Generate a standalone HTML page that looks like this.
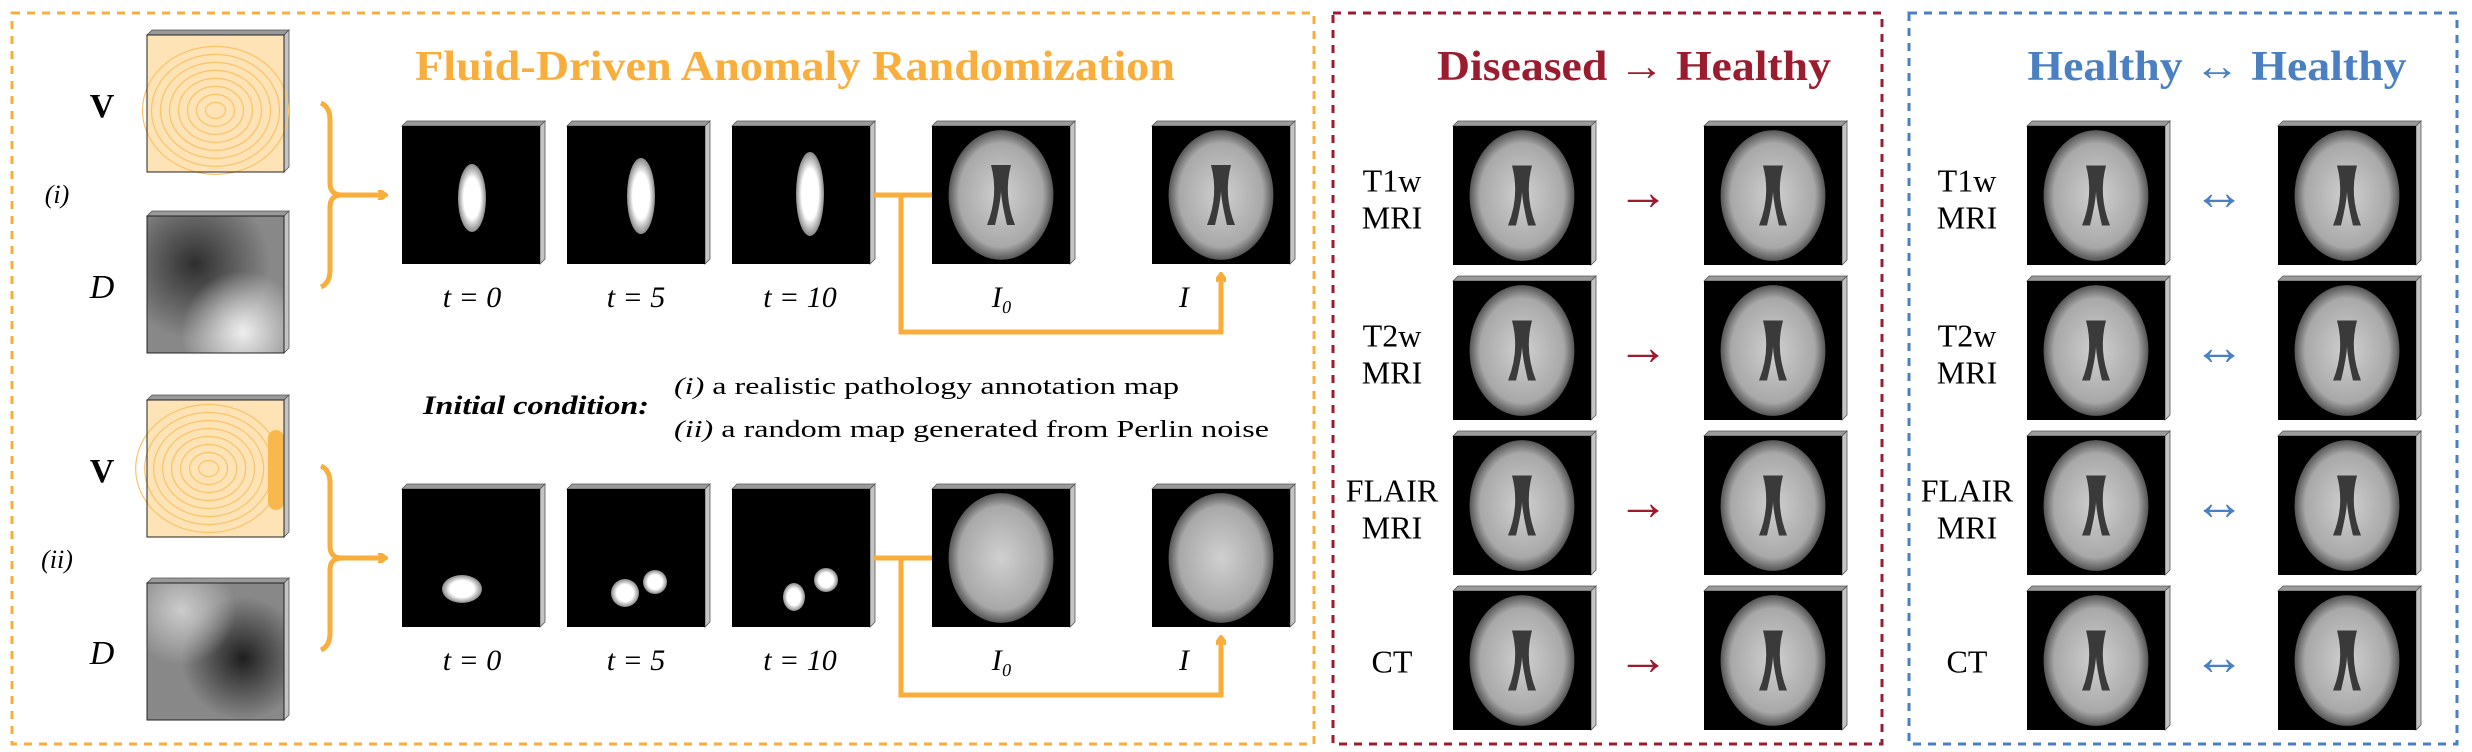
<!DOCTYPE html>
<html><head><meta charset="utf-8"><style>
html,body{margin:0;padding:0;background:#fff;}
svg{display:block;font-family:"Liberation Serif",serif;}
</style></head><body>
<svg id="fig" width="2472" height="752" viewBox="0 0 2472 752">
<defs>
<radialGradient id="brainG" cx="50%" cy="50%" r="50%"><stop offset="0" stop-color="#d0d0d0"/><stop offset="0.8" stop-color="#a8a8a8"/><stop offset="1" stop-color="#555"/></radialGradient>
<radialGradient id="blobG" cx="50%" cy="50%" r="50%"><stop offset="0.6" stop-color="#fff"/><stop offset="1" stop-color="#888"/></radialGradient>
<radialGradient id="dark1" cx="35%" cy="35%" r="55%"><stop offset="0" stop-color="#2e2e2e"/><stop offset="1" stop-color="#2e2e2e" stop-opacity="0"/></radialGradient>
<radialGradient id="light1" cx="70%" cy="85%" r="45%"><stop offset="0" stop-color="#eee"/><stop offset="1" stop-color="#eee" stop-opacity="0"/></radialGradient>
<radialGradient id="dark2" cx="70%" cy="55%" r="45%"><stop offset="0" stop-color="#1e1e1e"/><stop offset="1" stop-color="#1e1e1e" stop-opacity="0"/></radialGradient>
<radialGradient id="light2" cx="25%" cy="20%" r="40%"><stop offset="0" stop-color="#ccc"/><stop offset="1" stop-color="#ccc" stop-opacity="0"/></radialGradient>
<marker id="ah" markerWidth="10" markerHeight="10" refX="7" refY="5" orient="auto" markerUnits="userSpaceOnUse"><path d="M1,0 L8,5 L1,10" fill="none" stroke="#F9AD3A" stroke-width="4" stroke-linecap="round"/></marker>
</defs>
<rect x="12" y="13" width="1302" height="731" fill="none" stroke="#F9AD3A" stroke-width="3" stroke-dasharray="8,7"/>
<rect x="1333" y="13" width="549" height="731" fill="none" stroke="#9B1C2E" stroke-width="3" stroke-dasharray="8,7"/>
<rect x="1909" y="13" width="548" height="731" fill="none" stroke="#4A7FC1" stroke-width="3" stroke-dasharray="8,7"/>
<text x="795" y="80" text-anchor="middle" font-size="42" font-weight="bold" fill="#F9AD3A" textLength="760" lengthAdjust="spacingAndGlyphs">Fluid-Driven Anomaly Randomization</text>
<text x="1634" y="80" text-anchor="middle" font-size="42" font-weight="bold" fill="#9B1C2E" textLength="394" lengthAdjust="spacingAndGlyphs">Diseased → Healthy</text>
<text x="2217" y="80" text-anchor="middle" font-size="42" font-weight="bold" fill="#4A7FC1" textLength="379" lengthAdjust="spacingAndGlyphs">Healthy ↔ Healthy</text>
<text x="423" y="414" font-size="26" font-weight="bold" font-style="italic" textLength="226" lengthAdjust="spacingAndGlyphs">Initial condition:</text>
<text x="674" y="394" font-size="24" textLength="505" lengthAdjust="spacingAndGlyphs"><tspan font-style="italic">(i)</tspan> a realistic pathology annotation map</text>
<text x="674" y="437" font-size="24" textLength="595" lengthAdjust="spacingAndGlyphs"><tspan font-style="italic">(ii)</tspan> a random map generated from Perlin noise</text>
<g id="dyn"></g>
</svg>
<script>
const NS='http://www.w3.org/2000/svg';
const g=document.getElementById('dyn');
function el(t,a,p){const e=document.createElementNS(NS,t);for(const k in a)e.setAttribute(k,a[k]);(p||g).appendChild(e);return e;}
function txt(x,y,s,size,name,opt){const e=el('text',Object.assign({x:x,y:y,'font-size':size,'text-anchor':'middle'},opt||{}));e.textContent=s;


return e;}
function frame(x,y,w,h,name){const grp=el('g',{});


el('polygon',{points:`${x},${y} ${x+5},${y-5} ${x+w+5},${y-5} ${x+w},${y}`,fill:'#9a9a9a',stroke:'#555','stroke-width':0.8},grp);
el('polygon',{points:`${x+w},${y} ${x+w+5},${y-5} ${x+w+5},${y+h-5} ${x+w},${y+h}`,fill:'#c4c4c4',stroke:'#555','stroke-width':0.8},grp);
return grp;}
function blackImg(x,y,w,h,name){const grp=frame(x,y,w,h,name);el('rect',{x:x,y:y,width:w,height:h,fill:'#000'},grp);return grp;}
function brain(x,y,w,h,name,vent){const grp=blackImg(x,y,w,h,name);const cx=x+w/2,cy=y+h/2;
el('ellipse',{cx:cx,cy:cy,rx:w*0.38,ry:h*0.47,fill:'url(#brainG)'},grp);
if(vent){el('path',{d:`M${cx-10},${cy-30} Q${cx-2},${cy} ${cx-14},${cy+30} L${cx-6},${cy+30} Q${cx},${cy+5} ${cx},${cy-5} Q${cx},${cy+5} ${cx+6},${cy+30} L${cx+14},${cy+30} Q${cx+2},${cy} ${cx+10},${cy-30} Z`,fill:'#3a3a3a'},grp);}
return grp;}
const mapsY=[35,216,400,583];
const mapsType=['V','D','V','D'];
mapsY.forEach((y,i)=>{const x=147,w=137,h=137;const grp=frame(x,y,w,h,'input-map-'+mapsType[i].toLowerCase()+'-'+(i<2?'i':'ii'));
if(mapsType[i]==='V'){el('rect',{x:x,y:y,width:w,height:h,fill:'#fde3b6'},grp);
for(let k=0;k<8;k++){el('ellipse',{cx:x+w*(i?0.45:0.5),cy:y+h*(i?0.5:0.55),rx:10+k*9,ry:8+k*8,fill:'none',stroke:'#F9C36A','stroke-width':1.2},grp);}
if(i)el('rect',{x:x+w-16,y:y+30,width:16,height:80,fill:'#F9B84D',rx:8},grp);
}else{el('rect',{x:x,y:y,width:w,height:h,fill:'#888'},grp);
el('rect',{x:x,y:y,width:w,height:h,fill:i===1?'url(#dark1)':'url(#dark2)'},grp);
el('rect',{x:x,y:y,width:w,height:h,fill:i===1?'url(#light1)':'url(#light2)'},grp);}
el('rect',{x:x,y:y,width:w,height:h,fill:'none',stroke:'#222','stroke-width':1},grp);
});
txt(102,117,'V',34,'v-label-i',{'font-weight':'bold'});
txt(102,298,'D',34,'d-label-i',{'font-style':'italic'});
txt(102,482,'V',34,'v-label-ii',{'font-weight':'bold'});
txt(102,664,'D',34,'d-label-ii',{'font-style':'italic'});
txt(57,203,'(i)',26,'row-i-label',{'font-style':'italic'});
txt(57,568,'(ii)',26,'row-ii-label',{'font-style':'italic'});
const rowY=[126,489];
const colX=[402,567,732,932,1152];
const labelX=[472,636,800,1002,1184];
const tLabels=['t = 0','t = 5','t = 10','I₀','I'];
rowY.forEach((y,r)=>{const w=138,h=138;
const tip=y+h/2;
const br=el('path',{d:`M321,${tip-92} Q330,${tip-88} 330,${tip-75} L330,${tip-12} Q330,${tip} 342,${tip} Q330,${tip} 330,${tip+12} L330,${tip+75} Q330,${tip+88} 321,${tip+92}`,fill:'none',stroke:'#F9AD3A','stroke-width':5});


const ar=el('line',{x1:342,y1:tip,x2:385,y2:tip,stroke:'#F9AD3A','stroke-width':5,'marker-end':'url(#ah)'});


colX.forEach((x,c)=>{const nm='row-'+(r?'ii':'i')+'-img-'+c;
if(c<3){const grp=blackImg(x,y,w,h,nm);
if(r===0){el('ellipse',{cx:x+70+c*4,cy:y+72-c*2,rx:14,ry:34+c*4,fill:'url(#blobG)'},grp);}
else{const pts=[[60,100,20,14],[58,104,14,14],[62,108,11,14]];const p=pts[c];
el('ellipse',{cx:x+p[0],cy:y+p[1],rx:p[2],ry:p[3],fill:'url(#blobG)'},grp);
if(c>0)el('ellipse',{cx:x+88+(c-1)*6,cy:y+93+(c-1)*-2,rx:12,ry:12,fill:'url(#blobG)'},grp);}
}else{brain(x,y,w,h,nm,r===0);}
txt(labelX[c],y+h+43,tLabels[c],30,'row-'+(r?'ii':'i')+'-label-'+c,{'font-style':'italic'});
});
const ln=el('path',{d:`M873,${tip} L932,${tip} M901,${tip} L901,${tip+137} L1221,${tip+137} L1221,${tip+80}`,fill:'none',stroke:'#F9AD3A','stroke-width':5,'marker-end':'url(#ah)'});


});
const modalities=[['T1w','MRI'],['T2w','MRI'],['FLAIR','MRI'],['CT']];
const mRowY=[126,281,436,591];
mRowY.forEach((y,i)=>{const w=138,h=139;
[[1453,1704,1392,1643,'→','#9B1C2E','diseased'],[2027,2278,1967,2219,'↔','#4A7FC1','healthy']].forEach(p=>{
brain(p[0],y,w,h,p[6]+'-source-'+i,true);brain(p[1],y,w,h,p[6]+'-target-'+i,true);
const m=modalities[i];
if(m.length===2){txt(p[2],y+h/2-4,m[0],32,p[6]+'-modality-'+i+'-a');txt(p[2],y+h/2+33,m[1],32,p[6]+'-modality-'+i+'-b');}
else txt(p[2],y+h/2+12,m[0],32,p[6]+'-modality-'+i);
txt(p[3],y+h/2+14,p[4],52,p[6]+'-arrow-'+i,{fill:p[5]});
});});
</script>
</body></html>
